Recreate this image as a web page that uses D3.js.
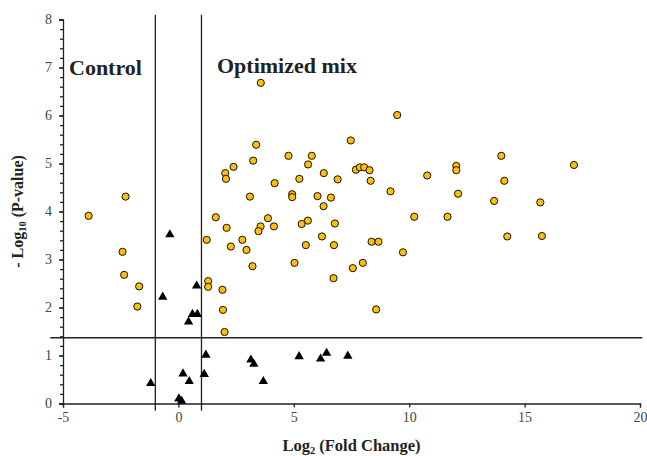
<!DOCTYPE html>
<html>
<head>
<meta charset="utf-8">
<script src="https://cdn.jsdelivr.net/npm/d3@7"></script>
<style>
  body { margin: 0; background: white; }
  svg { font-family: "Liberation Serif", "Times New Roman", serif; }
</style>
</head>
<body>
<div id="viz"></div>
<script>
// significant proteins (circles)
var sigX = [-3.89, -2.29, -2.42, -2.35, -1.70, -1.78, 1.62, 1.23, 1.29, 1.29,
  2.27, 2.77, 2.95, 3.21, 1.91, 1.93, 2.00, 5.03, 5.52, 6.22, 6.74, 6.72, 7.56, 7.99, 8.37, 8.67, 8.57, 9.73,
  3.57, 9.48, 3.37, 7.47, 3.24, 4.77, 5.78, 5.62, 2.39, 2.03, 2.06, 6.30, 5.24, 6.90, 7.69, 7.86, 8.05, 8.28, 8.33,
  4.17, 9.19, 3.10, 4.93, 4.93, 6.03, 6.61, 6.29, 10.22, 2.09, 3.88, 3.56, 3.47, 4.14, 5.34, 5.61, 6.78,
  13.99, 12.04, 12.04, 17.14, 10.78, 14.12, 12.12, 13.68, 15.68, 11.66, 14.25, 15.75];
var sigY = [3.91, 4.31, 3.16, 2.68, 2.44, 2.02, 3.88, 3.41, 2.55, 2.43,
  3.27, 3.41, 3.20, 2.86, 2.37, 1.95, 1.49, 2.93, 3.30, 3.48, 3.30, 2.61, 2.82, 2.93, 3.37, 3.37, 1.96, 3.15,
  6.68, 6.01, 5.39, 5.48, 5.06, 5.16, 5.16, 4.98, 4.93, 4.80, 4.68, 4.80, 4.68, 4.67, 4.87, 4.92, 4.92, 4.86, 4.64,
  4.59, 4.42, 4.31, 4.36, 4.30, 4.32, 4.29, 4.11, 3.89, 3.66, 3.86, 3.69, 3.59, 3.69, 3.74, 3.81, 3.75,
  5.16, 4.95, 4.86, 4.97, 4.75, 4.64, 4.37, 4.22, 4.19, 3.89, 3.48, 3.49];

// not significant (triangles)
var nsX = [-0.37, -0.68, 0.79, 0.61, 0.82, 0.44, 1.19, 1.12, 0.20, 0.47, -1.20, 0.02, 0.14,
  3.14, 3.27, 3.68, 5.23, 6.16, 6.42, 7.34];
var nsY = [3.52, 2.22, 2.45, 1.86, 1.86, 1.70, 1.01, 0.61, 0.62, 0.46, 0.42, 0.10, 0.05,
  0.91, 0.82, 0.46, 0.98, 0.93, 1.05, 0.99];

var xTicks = [-5, 0, 5, 10, 15, 20];
var yTicks = [0, 1, 2, 3, 4, 5, 6, 7, 8];
var fcCut = [-1, 1];
var pCut = 1.37;

var width = 647, height = 456;
var margin = ({top: 19.5, right: 7, bottom: 52.5, left: 63});

var x = d3.scaleLinear()
  .domain([-5, 20])
  .range([margin.left, width - margin.right]);
var y = d3.scaleLinear()
  .domain([0, 8])
  .range([height - margin.bottom, margin.top]);

var svg = d3.select('#viz')
  .append('svg')
  .attr('width', width)
  .attr('height', height);

// threshold lines
svg.append("g")
  .attr("stroke", "#222")
  .attr("stroke-width", 1.3)
  .selectAll("line")
  .data(fcCut)
  .join("line")
  .attr("x1", d => x(d))
  .attr("x2", d => x(d))
  .attr("y1", y(8.1))
  .attr("y2", y(-0.15));

svg.append("line")
  .attr("stroke", "#222")
  .attr("stroke-width", 1.3)
  .attr("x1", x(-5.55))
  .attr("x2", x(20.1))
  .attr("y1", y(pCut))
  .attr("y2", y(pCut));

// y axis with minor ticks
var yAxis = svg.append("g")
  .attr("transform", "translate(" + margin.left + ",0)")
  .call(d3.axisLeft(y).tickValues(yTicks).tickSize(4).tickFormat(d => String(d)));
svg.append("g")
  .attr("transform", "translate(" + margin.left + ",0)")
  .call(d3.axisLeft(y).tickValues(d3.range(0, 8.01, 0.2)).tickSize(3).tickFormat(""))
  .select(".domain").remove();

// x axis
var xAxis = svg.append("g")
  .attr("transform", "translate(0," + y(0) + ")")
  .call(d3.axisBottom(x).tickValues(xTicks).tickSize(4).tickFormat(d => String(d)));

svg.selectAll(".domain, .tick line").attr("stroke", "#222").attr("stroke-width", 1.3);
svg.selectAll(".tick text")
  .attr("font-family", "Liberation Serif")
  .attr("font-size", 14)
  .attr("fill", "#444");
yAxis.selectAll("text").attr("x", -11);
xAxis.selectAll("text").attr("dy", "0.9em").attr("y", 6);

// points
svg.append("g")
  .selectAll("path")
  .data(nsX)
  .join("path")
  .attr("d", d3.symbol(d3.symbolTriangle, 38))
  .attr("transform", (d, i) => "translate(" + x(d) + "," + y(nsY[i]) + ")")
  .attr("fill", "black");

svg.append("g")
  .attr("stroke", "#111")
  .attr("stroke-width", 1)
  .selectAll("circle")
  .data(sigX)
  .join("circle")
  .attr("cx", d => x(d))
  .attr("cy", (d, i) => y(sigY[i]))
  .attr("r", 3.6)
  .attr("fill", "#FFC000");

// group labels
svg.append("text")
  .attr("x", 69).attr("y", 75)
  .attr("font-size", 22).attr("font-weight", "bold").attr("fill", "#222")
  .text("Control");
svg.append("text")
  .attr("x", 217).attr("y", 73)
  .attr("font-size", 22).attr("font-weight", "bold").attr("fill", "#222")
  .text("Optimized mix");

// axis titles
var xt = svg.append("text")
  .attr("x", x(7.5)).attr("y", 451)
  .attr("text-anchor", "middle")
  .attr("font-size", 16.5).attr("font-weight", "bold").attr("fill", "#222");
xt.append("tspan").text("Log");
xt.append("tspan").attr("font-size", 10.5).attr("dy", 3).text("2");
xt.append("tspan").attr("dy", -3).text(" (Fold Change)");

var yt = svg.append("text")
  .attr("transform", "translate(23," + y(4) + ") rotate(-90)")
  .attr("text-anchor", "middle")
  .attr("font-size", 16).attr("font-weight", "bold").attr("fill", "#222");
yt.append("tspan").text("- Log");
yt.append("tspan").attr("font-size", 10.5).attr("dy", 3).text("10");
yt.append("tspan").attr("dy", -3).text(" (P-value)");
</script>
</body>
</html>
